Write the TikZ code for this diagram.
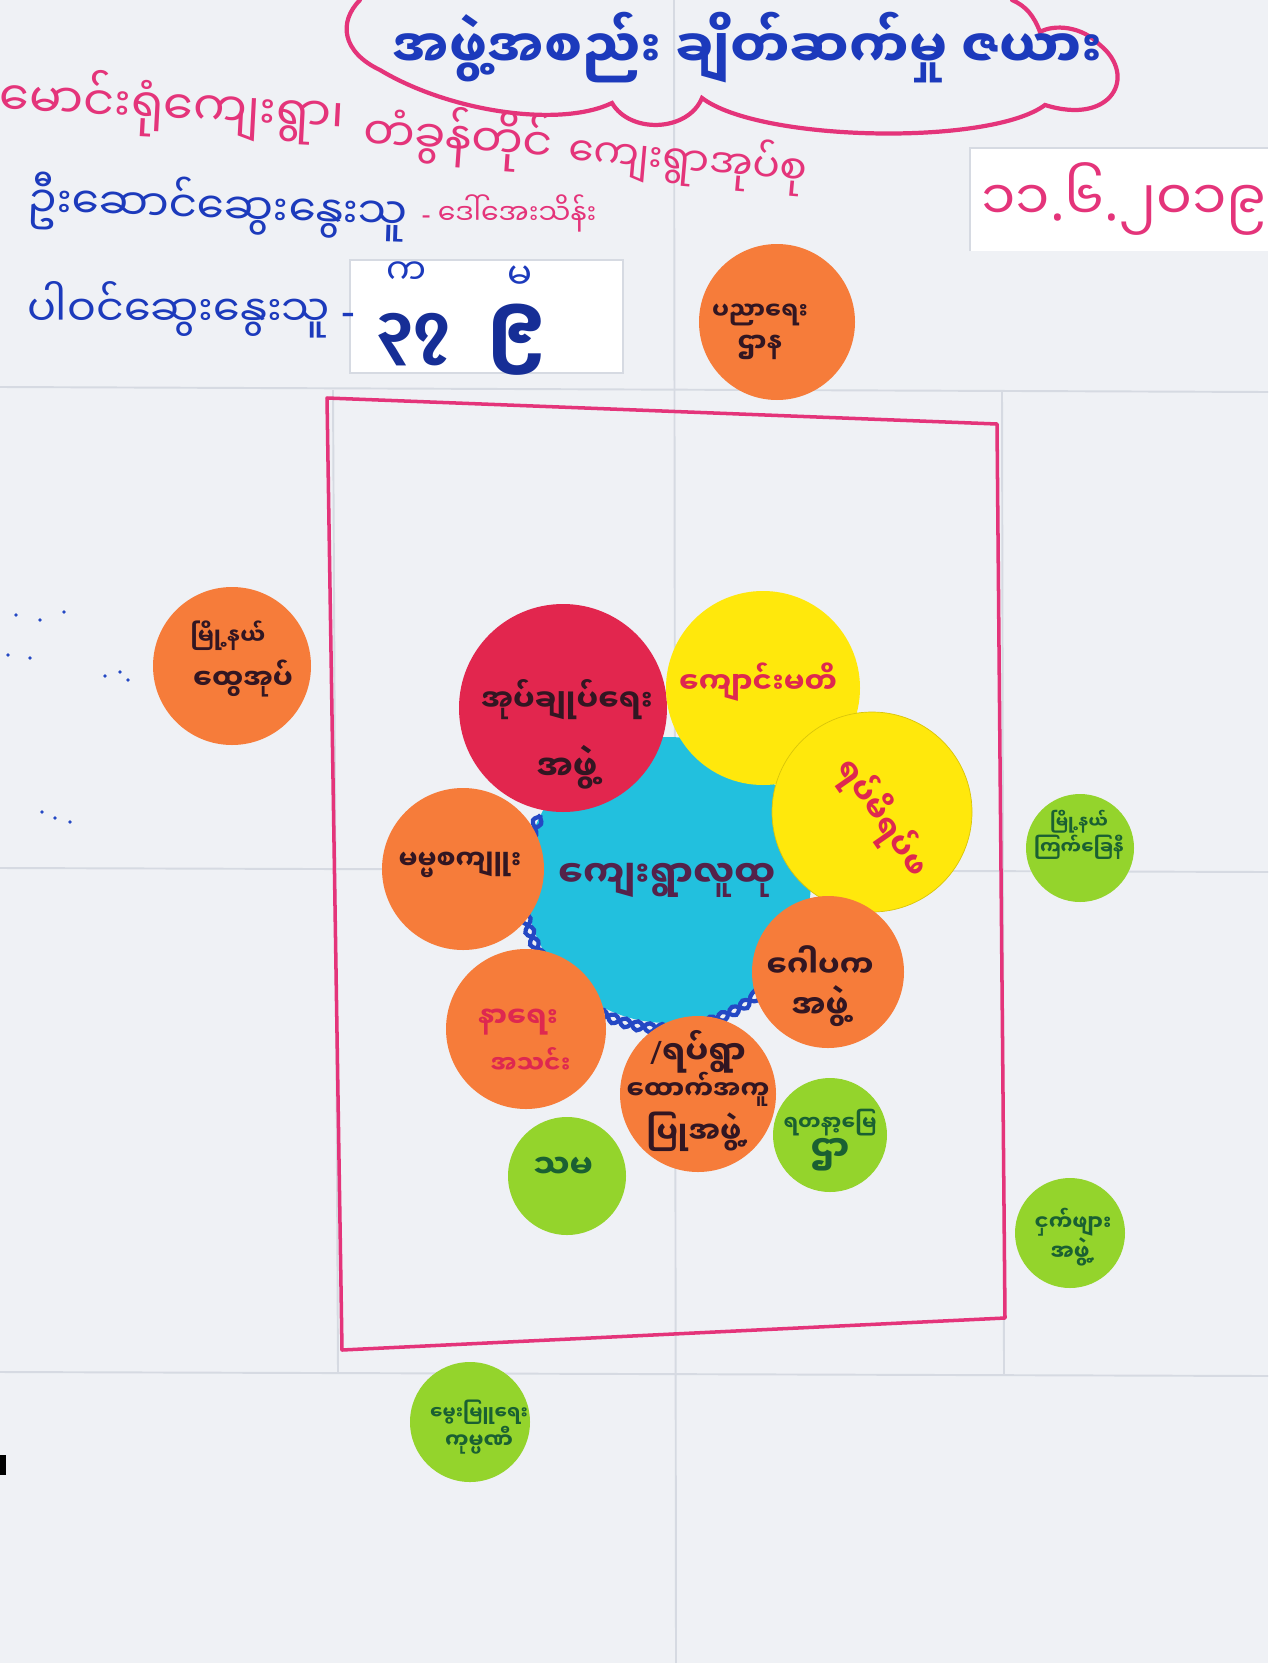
\documentclass[tikz,border=0pt]{standalone}
\usepackage{fontspec}
\usepackage{graphicx}
\newfontfamily\my[Script=Myanmar]{Noto Sans Myanmar UI}
\newfontfamily\lat{Noto Sans}
\usetikzlibrary{decorations.pathmorphing}
\definecolor{paper}{RGB}{239,241,245}
\definecolor{seam}{RGB}{214,218,226}
\definecolor{org}{RGB}{246,124,58}
\definecolor{redc}{RGB}{226,38,78}
\definecolor{yel}{RGB}{255,232,12}
\definecolor{cya}{RGB}{34,192,222}
\definecolor{grn}{RGB}{148,212,44}
\definecolor{pinkl}{RGB}{228,52,122}
\definecolor{tblue}{RGB}{28,58,188}
\definecolor{ink}{RGB}{50,22,34}
\definecolor{inkred}{RGB}{222,40,80}
\definecolor{inkgrn}{RGB}{26,96,50}
\definecolor{inkcya}{RGB}{84,34,74}
\definecolor{rope}{RGB}{36,72,196}
\newcommand\fw[2]{\resizebox{#1}{!}{\my #2}}
\newcommand\fb[2]{\resizebox{#1}{!}{\my\bfseries #2}}
\newcommand\dsh{{\lat -}}
\newcommand\dt{{\lat .}}
\newcommand\sls{{\lat /}}
\begin{document}
\begin{tikzpicture}[x=0.02cm,y=-0.02cm,
  bub/.style={circle,inner sep=0pt,minimum size=#1*0.02cm},
  lbl/.style={inner sep=0pt,text=ink,align=center},
  seamline/.style={draw=seam,line width=1.1pt},
  ropeline/.style={draw=rope,line width=2.4pt,decorate,
     decoration={snake,segment length=0.5cm,amplitude=0.09cm}},
]
\useasboundingbox (0,0) rectangle (1268,1663);
\fill[paper] (0,0) rectangle (1268,1663);
% paper seams
\draw[seamline] (674,0) -- (676,1663);
\draw[seamline] (0,387) -- (1268,392);
\draw[seamline] (0,868) -- (1268,872);
\draw[seamline] (0,1372) -- (1268,1376);
\draw[seamline] (333,390) -- (338,1372);
\draw[seamline] (1002,392) -- (1004,1374);
% white paper slips
\fill[white] (350,260) rectangle (623,373);
\draw[seam,line width=0.8pt] (350,260) rectangle (623,373);
\fill[white] (970,148) rectangle (1268,251);
\draw[seam,line width=0.8pt] (970,251) -- (970,148) -- (1268,148);

% title cloud
\draw[pinkl,line width=2.4pt,line cap=round]
  (360,0) .. controls (338,22) and (342,52) .. (380,70)
  .. controls (450,112) and (560,128) .. (612,103)
  .. controls (630,134) and (688,132) .. (702,98)
  .. controls (760,142) and (990,146) .. (1045,105)
  .. controls (1112,126) and (1138,76) .. (1100,45)
  .. controls (1082,26) and (1054,24) .. (1040,32)
  .. controls (1034,16) and (1026,6) .. (1012,0);
\node[lbl,text=tblue] (title) at (748,48) {\fb{14.2cm}{အဖွဲ့အစည်း ချိတ်ဆက်မှု ဇယား}};

% header lines
\node[lbl,text=pinkl,rotate=-3] (placeA) at (172,106) {\fw{6.9cm}{မောင်းရုံကျေးရွာ၊}};
\node[lbl,text=pinkl,rotate=-4] (placeB1) at (458,138) {\fw{3.8cm}{တံခွန်တိုင်}};
\node[lbl,text=pinkl,rotate=-5] (placeB2) at (688,160) {\fw{4.8cm}{ကျေးရွာအုပ်စု}};
\node[lbl,text=tblue,rotate=-2] (lead) at (218,207) {\fw{7.6cm}{ဦးဆောင်ဆွေးနွေးသူ}};
\node[lbl,text=pinkl] (leadname) at (509,213) {\fw{3.5cm}{\dsh\ ဒေါ်အေးသိန်း}};
\node[lbl,text=tblue] (part) at (191,310) {\fw{6.56cm}{ပါဝင်ဆွေးနွေးသူ \dsh}};
\node[lbl,text=tblue] (male) at (406,273) {\fw{0.8cm}{က}};
\node[lbl,text=tblue] (female) at (520,278) {\fw{0.5cm}{မ}};
\node[lbl,text=tblue!80!black] (nmale) at (413,340) {\fw{1.5cm}{\bfseries ၃၇}};
\node[lbl,text=tblue!80!black] (nfemale) at (517,340) {\fw{1.2cm}{\bfseries ၉}};
\node[lbl,text=pinkl] (date) at (1124,199) {\fw{5.7cm}{၁၁\dt ၆\dt ၂၀၁၉}};

% stray marks
\foreach \p in {(16,615),(40,620),(64,612),(8,655),(30,658),(105,676),(120,672),(128,680),(42,812),(55,818),(70,822)}
  \fill[rope] \p circle (1.8);
\fill[black] (0,1455) rectangle (6,1475);

% frame
\draw[pinkl,line width=2pt,line join=round] (327,398) -- (997,424) -- (1005,1318) -- (342,1350) -- cycle;

% centre diagram
\node[bub=286,fill=cya] (cyan) at (668,880) {};
\draw[ropeline] (cyan.center) ++(207:143) arc[start angle=207,end angle=45,radius=143];
\draw[ropeline,decoration={mirror}] (cyan.center) ++(207:143) arc[start angle=207,end angle=45,radius=143];
\node[bub=208,fill=redc] (red) at (563,708) {};
\node[bub=194,fill=yel] (yel1) at (763,688) {};
\node[bub=200,fill=yel,draw=yel!85!black,line width=0.4pt] (yel2) at (872,812) {};
\node[bub=162,fill=org] (mm) at (463,869) {};
\node[bub=160,fill=org] (naye) at (526,1029) {};
\node[bub=152,fill=org] (gaw) at (828,972) {};
\node[bub=156,fill=org] (support) at (698,1094) {};
\node[bub=156,fill=org] (edu) at (777,322) {};
\node[bub=158,fill=org] (gad) at (232,666) {};
\node[bub=118,fill=grn] (tha) at (567,1176) {};
\node[bub=114,fill=grn] (land) at (830,1135) {};
\node[bub=108,fill=grn] (tsh) at (1080,848) {};
\node[bub=110,fill=grn] (malaria) at (1070,1233) {};
\node[bub=120,fill=grn] (bottomg) at (470,1422) {};

% labels
\node[lbl] (edut) at (760,332) {\fb{1.92cm}{ပညာရေး}\\[4pt]\fb{0.9cm}{ဌာန}};
\node[lbl] (gadt) at (228,659) {\fb{1.5cm}{မြို့နယ်}\\[4pt]\hspace*{0.6cm}\fb{2.0cm}{ထွေအုပ်}};
\node[lbl] (redt) at (567,734) {\fb{3.44cm}{အုပ်ချုပ်ရေး}\\[14pt]\fb{1.22cm}{အဖွဲ့}};
\node[lbl,text=inkred] (yel1t) at (758,682) {\fb{3.16cm}{ကျောင်းမတိ}};
\node[lbl,text=inkred,rotate=-55] (yel2t) at (882,818) {\fb{2.7cm}{ရပ်မိရပ်ဖ}};
\node[lbl,text=inkcya] (cyant) at (667,880) {\fb{4.36cm}{ကျေးရွာလူထု}};
\node[lbl] (mmt) at (460,865) {\fb{2.46cm}{မမ္မစကျူး}};
\node[lbl,text=inkred] (nayet) at (518,1041) {\fb{1.6cm}{နာရေး}\\[6pt]\hspace*{0.5cm}\fb{1.6cm}{အသင်း}};
\node[lbl] (gawt) at (820,986) {\fb{2.14cm}{ဂေါပက}\\[4pt]\fb{1.14cm}{အဖွဲ့}};
\node[lbl] (supt) at (698,1091) {\fb{1.92cm}{\sls ရပ်ရွာ}\\[-2pt]\fb{2.86cm}{ထောက်အကူ}\\[2pt]\fb{2.06cm}{ပြုအဖွဲ့\dt}};
\node[lbl,text=inkgrn] (tha1) at (563,1168) {\fb{1.2cm}{သမ}};
\node[lbl,text=inkgrn] (landt) at (830,1140) {\fb{1.86cm}{ရတနာ့မြေ}\\[0pt]\fb{0.78cm}{ဌာ}};
\node[lbl,text=inkgrn] (tsht) at (1079,835) {\fb{1.16cm}{မြို့နယ်}\\[0pt]\fb{1.8cm}{ကြက်ခြေနီ}};
\node[lbl,text=inkgrn] (malt) at (1073,1237) {\fb{1.54cm}{ငှက်ဖျား}\\[0pt]\fb{0.9cm}{အဖွဲ့\dt}};
\node[lbl,text=inkgrn] (bgt) at (479,1427) {\fb{1.96cm}{မွေးမြူရေး}\\[0pt]\fb{1.36cm}{ကုမ္ပဏီ}};
\end{tikzpicture}
\end{document}
